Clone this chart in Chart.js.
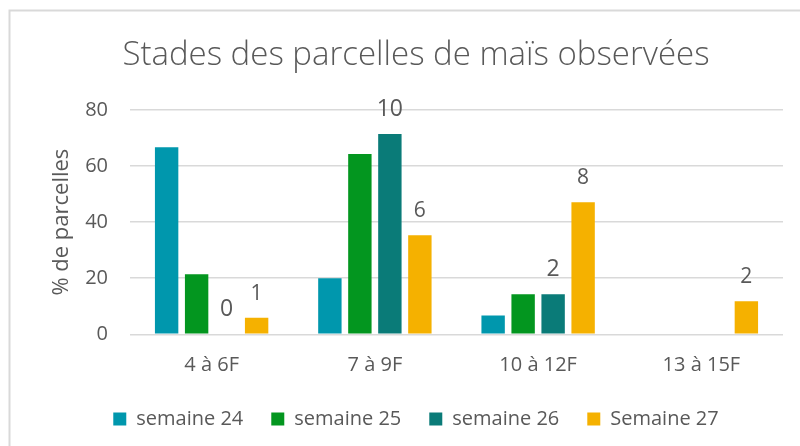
<!DOCTYPE html>
<html>
<head>
<meta charset="utf-8">
<script src="https://cdn.jsdelivr.net/npm/chart.js@4.4.1/dist/chart.umd.min.js"></script>
<style>
  html, body { margin: 0; padding: 0; background: #ffffff; }
  #wrap { width: 800px; height: 446px; position: relative; }
</style>
</head>
<body>
<div id="wrap"><canvas id="c" width="800" height="446"></canvas></div>
<script>
const categories = ["4 à 6F", "7 à 9F", "10 à 12F", "13 à 15F"];
const seriesNames = ["semaine 24", "semaine 25", "semaine 26", "Semaine 27"];
const semaine24 = [66.7, 20.0, 6.7, 0];
const semaine25 = [21.4, 64.3, 14.3, 0];
const semaine26 = [0, 71.4, 14.3, null];
const semaine27 = [5.9, 35.3, 47.1, 11.8];
const labels26 = ["0", "10", "2", null];
const labels27 = ["1", "6", "8", "2"];
const yTicks = [0, 20, 40, 60, 80];
const titleText = "Stades des parcelles de maïs observées";
const yTitle = "% de parcelles";

const colors = ["#0097ad", "#03961f", "#0a7b78", "#f5b100"];
const textColor = "#595959";
const FONT = "'Open Sans', 'DejaVu Sans', sans-serif";

const frame = {
  id: 'frame',
  beforeDraw(chart) {
    const ctx = chart.ctx;
    ctx.save();
    ctx.fillStyle = '#ffffff';
    ctx.fillRect(0, 0, chart.width, chart.height);
    ctx.strokeStyle = '#d9d9d9';
    ctx.lineWidth = 2;
    ctx.beginPath();
    ctx.moveTo(9.5, chart.height);
    ctx.lineTo(9.5, 10.5);
    ctx.lineTo(chart.width, 10.5);
    ctx.stroke();
    ctx.restore();
  }
};

const valueLabels = {
  id: 'valueLabels',
  afterDatasetsDraw(chart) {
    const ctx = chart.ctx;
    const sets = [[2, labels26, 23], [3, labels27, 21]];
    ctx.save();
    ctx.fillStyle = textColor;
    ctx.textAlign = 'center';
    ctx.textBaseline = 'alphabetic';
    sets.forEach(([di, labs, size]) => {
      const meta = chart.getDatasetMeta(di);
      ctx.font = size + "px " + FONT;
      meta.data.forEach((bar, i) => {
        if (labs[i] == null) return;
        ctx.fillText(labs[i], bar.x, bar.y - 18);
      });
    });
    ctx.restore();
  }
};

const data = {
  labels: categories,
  datasets: [semaine24, semaine25, semaine26, semaine27].map((vals, i) => ({
    label: seriesNames[i],
    data: vals,
    backgroundColor: colors[i],
    borderWidth: 0,
    categoryPercentage: 0.735,
    barPercentage: 0.78
  }))
};

new Chart(document.getElementById('c'), {
  type: 'bar',
  data,
  options: {
    responsive: false,
    animation: false,
    devicePixelRatio: 1,
    layout: { padding: { left: 49, right: 17, top: 10, bottom: 7 } },
    plugins: {
      title: {
        display: true,
        text: titleText,
        color: textColor,
        font: { family: FONT, size: 33, weight: '300' },
        padding: { top: 25.7, bottom: 34.7 }
      },
      legend: {
        position: 'bottom',
        labels: {
          color: textColor,
          font: { family: FONT, size: 20 },
          boxWidth: 13,
          boxHeight: 13,
          padding: 28
        }
      },
      tooltip: { enabled: false }
    },
    scales: {
      x: {
        grid: { display: false, drawTicks: false },
        border: { display: false },
        ticks: { color: textColor, font: { family: FONT, size: 20 }, padding: 19 },
        afterFit(scale) { scale.height = 46.7; }
      },
      y: {
        min: 0, max: 80,
        afterBuildTicks(scale) { scale.ticks = yTicks.map(v => ({ value: v })); },
        grid: { color: '#d9d9d9', lineWidth: 1.5, drawTicks: false },
        border: { display: false },
        ticks: { color: textColor, font: { family: FONT, size: 20 }, padding: 22 },
        title: { display: true, text: yTitle, color: textColor, font: { family: FONT, size: 22 }, padding: 0 },
        afterFit(scale) { scale.width = 81; }
      }
    }
  },
  plugins: [frame, valueLabels]
});
</script>
</body>
</html>
